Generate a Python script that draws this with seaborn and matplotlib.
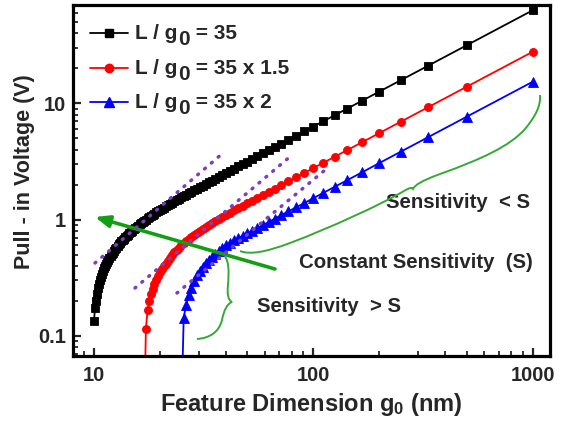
import numpy as np
import pandas as pd
import matplotlib
matplotlib.use("Agg")
import matplotlib.pyplot as plt
import seaborn as sns
from matplotlib.lines import Line2D
from matplotlib.path import Path
from matplotlib.patches import PathPatch
from matplotlib.ticker import FixedLocator, LogLocator, NullFormatter

# ---------------- data ----------------
gap_nm = [10.0, 10.1, 10.2, 10.31, 10.42, 10.53, 10.64, 10.75, 10.87, 10.99,
          11.11, 11.24, 11.36, 11.49, 11.63, 11.76, 11.9, 12.05, 12.2, 12.35,
          12.5, 12.66, 12.82, 12.99, 13.16, 13.33, 13.51, 13.7, 13.89, 14.08,
          14.29, 14.49, 14.71, 14.93, 15.15, 15.38, 15.63, 15.87, 16.13, 16.39,
          16.67, 16.95, 17.24, 17.54, 17.86, 18.18, 18.52, 18.87, 19.23, 19.61,
          20.0, 20.41, 20.83, 21.28, 21.74, 22.22, 22.73, 23.26, 23.81, 24.39,
          25.0, 25.64, 26.32, 27.03, 27.78, 28.57, 29.41, 30.3, 31.25, 32.26,
          33.33, 34.48, 35.71, 37.04, 38.46, 40.0, 41.67, 43.48, 45.45, 47.62,
          50.0, 52.63, 55.56, 58.82, 62.5, 66.67, 71.43, 76.92, 83.33, 90.91,
          100.0, 111.1, 125.0, 142.9, 166.7, 200.0, 250.0, 333.3, 500.0, 1000.0]

v_ratio_35 = [0.135, 0.172, 0.199, 0.231, 0.256, 0.279, 0.302, 0.322, 0.342, 0.363,
              0.381, 0.400, 0.415, 0.434, 0.451, 0.467, 0.484, 0.501, 0.519, 0.537,
              0.555, 0.574, 0.594, 0.612, 0.630, 0.648, 0.667, 0.686, 0.705, 0.724,
              0.743, 0.763, 0.784, 0.804, 0.825, 0.845, 0.866, 0.888, 0.909, 0.932,
              0.955, 0.977, 1.000, 1.024, 1.049, 1.073, 1.099, 1.126, 1.152, 1.180,
              1.208, 1.238, 1.268, 1.299, 1.331, 1.365, 1.399, 1.435, 1.472, 1.511,
              1.551, 1.594, 1.638, 1.684, 1.733, 1.784, 1.838, 1.896, 1.957, 2.022,
              2.090, 2.164, 2.241, 2.326, 2.416, 2.515, 2.620, 2.734, 2.861, 2.997,
              3.147, 3.316, 3.500, 3.706, 3.938, 4.200, 4.500, 4.846, 5.250, 5.727,
              6.30, 7.00, 7.875, 9.00, 10.50, 12.60, 15.75, 21.0, 31.5, 63.0]

# values for the largest gaps (tail of gap_nm); first value lies below the axis
v_ratio_35x15 = [0.02, 0.115, 0.165, 0.198, 0.229, 0.254, 0.280, 0.304, 0.329,
                 0.352, 0.376, 0.398, 0.418, 0.440, 0.468, 0.494, 0.521, 0.546, 0.573,
                 0.600, 0.626, 0.654, 0.682, 0.710, 0.739, 0.769, 0.799, 0.831, 0.864,
                 0.897, 0.933, 0.970, 1.010, 1.051, 1.096, 1.144, 1.196, 1.251, 1.312,
                 1.379, 1.454, 1.534, 1.626, 1.728, 1.845, 1.977, 2.131, 2.308, 2.518,
                 2.77, 3.078, 3.463, 3.957, 4.617, 5.54, 6.925, 9.233, 13.85, 27.7]

v_ratio_35x2 = [0.02, 0.143, 0.185, 0.225, 0.260, 0.295, 0.330, 0.360, 0.390, 0.420,
                0.450, 0.480, 0.510, 0.540, 0.570, 0.600, 0.630, 0.660, 0.690, 0.725,
                0.760, 0.800, 0.845, 0.895, 0.950, 1.015, 1.090, 1.175, 1.270, 1.385,
                1.525, 1.695, 1.910, 2.180, 2.545, 3.060, 3.825, 5.100, 7.650, 15.30]

series_names = ["L / g0 = 35", "L / g0 = 35 x 1.5", "L / g0 = 35 x 2"]
legend_tails = [" = 35", " = 35 x 1.5", " = 35 x 2"]
series_colors = ["#000000", "#ff0000", "#0000ff"]
series_markers = ["s", "o", "^"]
series_msize = [5.4, 5.8, 6.8]

x_ticks = [10, 100, 1000]
x_ticklabels = ["10", "100", "1000"]
y_ticks = [0.1, 1, 10]
y_ticklabels = ["0.1", "1", "10"]

# ---------------- style ----------------
sns.set_style("ticks")
plt.rcParams["font.family"] = ["Liberation Sans", "DejaVu Sans"]
plt.rcParams["font.weight"] = "bold"
plt.rcParams["mathtext.fontset"] = "custom"
plt.rcParams["mathtext.rm"] = "Liberation Sans:bold"
plt.rcParams["mathtext.it"] = "Liberation Sans:bold"
plt.rcParams["mathtext.bf"] = "Liberation Sans:bold"
plt.rcParams["mathtext.default"] = "rm"

W, H = 569, 425
fig = plt.figure(figsize=(W / 100, H / 100), dpi=100)
fig.patch.set_facecolor("white")
ax = fig.add_axes([73 / W, 1 - 356 / H, 477 / W, 351 / H])
ax.set_facecolor("white")

frames = []
for lab, vals in zip(series_names, [v_ratio_35, v_ratio_35x15, v_ratio_35x2]):
    frames.append(pd.DataFrame({"gap": gap_nm[-len(vals):], "V": vals, "series": lab}))
df = pd.concat(frames, ignore_index=True)

for lab, col, mk, ms in zip(series_names, series_colors, series_markers, series_msize):
    sub = df[df["series"] == lab]
    sns.lineplot(data=sub, x="gap", y="V", ax=ax, color=col, marker=mk,
                 markersize=ms, markeredgecolor=col, markeredgewidth=0.6,
                 linewidth=1.3, estimator=None, sort=True, legend=False)

ax.set_xscale("log")
ax.set_yscale("log")
ax.set_xlim(8.02, 1200)
ax.set_ylim(0.067, 70)

ax.xaxis.set_major_locator(FixedLocator(x_ticks))
ax.set_xticklabels(x_ticklabels)
ax.yaxis.set_major_locator(FixedLocator(y_ticks))
ax.set_yticklabels(y_ticklabels)
ax.xaxis.set_minor_locator(LogLocator(base=10, subs=np.arange(2, 10)))
ax.yaxis.set_minor_locator(LogLocator(base=10, subs=np.arange(2, 10)))
ax.xaxis.set_minor_formatter(NullFormatter())
ax.yaxis.set_minor_formatter(NullFormatter())
ax.tick_params(which="major", direction="in", length=6, width=1.6,
               labelsize=14.5, top=False, right=False)
ax.tick_params(axis="x", which="major", pad=7)
ax.tick_params(axis="y", which="major", pad=5)
ax.tick_params(which="minor", direction="in", length=3.5, width=1.3,
               top=False, right=False)
for lbl in ax.get_xticklabels() + ax.get_yticklabels():
    lbl.set_fontweight("bold")
for sp in ax.spines.values():
    sp.set_visible(True)
    sp.set_linewidth(2.3)
    sp.set_color("black")

ax.set_xlabel(r"Feature Dimension g$_0$ (nm)", fontsize=17, fontweight="bold")
ax.set_ylabel("Pull - in Voltage (V)", fontsize=15.5, fontweight="bold")
ax.xaxis.set_label_coords((311 - 73) / 477, -(405 - 356) / 351)
ax.xaxis.label.set_va("center")
ax.yaxis.set_label_coords((25 - 73) / 477, (356 - 172) / 351)
ax.yaxis.label.set_va("center")


def P(x, y):
    return x / W, 1 - y / H


# ---------------- legend (drawn by hand to get the full-size lowered "0") ----------------
fig.canvas.draw()
renderer = fig.canvas.get_renderer()
leg_font = dict(fontsize=15, fontweight="bold", family="Liberation Sans",
                va="baseline", ha="left", transform=fig.transFigure)
row_mid = [33, 68, 102]
row_base = [39, 74, 108]
for ym, yb, col, mk, ms, tail in zip(row_mid, row_base, series_colors,
                                     series_markers, series_msize, legend_tails):
    a, b = P(90, ym), P(128, ym)
    fig.add_artist(Line2D([a[0], b[0]], [a[1], b[1]], transform=fig.transFigure,
                          color=col, linewidth=1.3))
    c = P(109, ym)
    fig.add_artist(Line2D([c[0]], [c[1]], transform=fig.transFigure, color=col,
                          marker=mk, markersize=ms + 0.3, markeredgecolor=col))
    t1 = fig.text(*P(135, yb), "L / g", **leg_font)
    x1 = t1.get_window_extent(renderer).x1
    t2 = fig.text(x1 / W + 0.5 / W, 1 - (yb + 6) / H, "0", **leg_font)
    x2 = t2.get_window_extent(renderer).x1
    fig.text(x2 / W, 1 - yb / H, tail, **leg_font)

# ---------------- annotations (pixel coordinates of the figure) ----------------
purple = "#7b3fbf"
green = "#139f13"
green_thin = "#36a836"

tangents = [((95, 263), (223, 153)), ((135, 288), (292, 155)), ((177, 293), (325, 170))]
for (x1, y1), (x2, y2) in tangents:
    a, b = P(x1, y1), P(x2, y2)
    fig.add_artist(Line2D([a[0], b[0]], [a[1], b[1]], transform=fig.transFigure,
                          color=purple, linewidth=2.5, linestyle=(0, (0.3, 2.3)),
                          dash_capstyle="round", zorder=5))

ax.annotate("", xy=P(95, 217), xycoords="figure fraction",
            xytext=P(275, 269), textcoords="figure fraction",
            arrowprops=dict(arrowstyle="-|>,head_length=0.85,head_width=0.35",
                            color=green, linewidth=2.6, shrinkA=0, shrinkB=0),
            zorder=6)


def bezier_path(points):
    verts = [P(*points[0])]
    codes = [Path.MOVETO]
    for i in range(1, len(points), 3):
        for q in points[i:i + 3]:
            verts.append(P(*q))
            codes.append(Path.CURVE4)
    patch = PathPatch(Path(verts, codes), transform=fig.transFigure, fill=False,
                      edgecolor=green_thin, linewidth=1.4, zorder=6)
    fig.add_artist(patch)


# large brace ("Sensitivity < S")
bezier_path([(240, 251),
             (250, 255), (266, 252), (290, 243),
             (330, 228), (382, 204), (404, 191),
             (409, 188), (412, 187), (413, 189),
             (415, 185), (421, 181), (440, 174),
             (482, 159), (510, 146), (525, 129),
             (535, 117), (541, 106), (540, 95)])
# small brace ("Sensitivity > S")
bezier_path([(225, 257),
             (229, 261), (229, 272), (228, 285),
             (227, 294), (228, 300), (232, 302),
             (227, 304), (224, 310), (222, 320),
             (219, 332), (210, 338), (197, 339)])

txt_kw = dict(fontsize=14.7, fontweight="bold", family="Liberation Sans",
              ha="left", va="center", transform=fig.transFigure)
fig.text(*P(386, 203), "Sensitivity  < S", **txt_kw)
fig.text(*P(299, 262), "Constant Sensitivity  (S)", **txt_kw)
fig.text(*P(257, 307), "Sensitivity  > S", **txt_kw)

fig.savefig("out.png", dpi=100, facecolor="white")
